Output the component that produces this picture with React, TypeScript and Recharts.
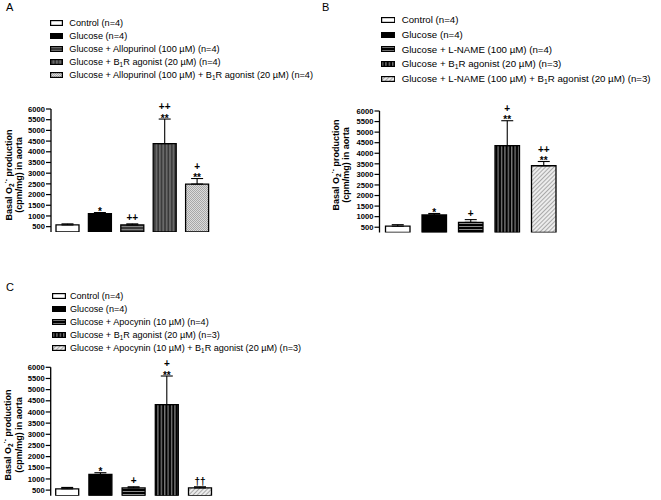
import React from 'react';
import { BarChart, Bar, XAxis, YAxis, Cell, ErrorBar, LabelList, Legend } from 'recharts';

// Basal superoxide production in aorta, three inhibitor panels (A, B, C)

const FONT = '"Liberation Sans", Arial, Helvetica, sans-serif';
const Y_MIN = 250;
const Y_MAX = 6000;
const Y_TICKS = [500, 1000, 1500, 2000, 2500, 3000, 3500, 4000, 4500, 5000, 5500, 6000];

// Panel A — allopurinol
const LABELS_A = [
  'Control (n=4)',
  'Glucose (n=4)',
  'Glucose + Allopurinol (100 µM) (n=4)',
  'Glucose + B₁R agonist (20 µM) (n=4)',
  'Glucose + Allopurinol (100 µM) + B₁R agonist  (20 µM) (n=4)',
];
const VALUES_A = [580, 1110, 580, 4380, 2490];
const ERR_A = [50, 50, 50, 1150, 260];
const SIG_A = [[], ['*'], ['++'], ['**', '++'], ['**', '+']];

// Panel B — L-NAME
const LABELS_B = [
  'Control (n=4)',
  'Glucose (n=4)',
  'Glucose + L-NAME (100 µM) (n=4)',
  'Glucose + B₁R agonist (20 µM) (n=3)',
  'Glucose + L-NAME (100 µM) + B₁R agonist (20 µM) (n=3)',
];
const VALUES_B = [550, 1080, 730, 4360, 3410];
const ERR_B = [70, 70, 130, 1180, 200];
const SIG_B = [[], ['*'], ['+'], ['**', '+'], ['**', '++']];

// Panel C — apocynin
const LABELS_C = [
  'Control (n=4)',
  'Glucose (n=4)',
  'Glucose + Apocynin (10 µM) (n=4)',
  'Glucose + B₁R agonist (20 µM) (n=3)',
  'Glucose + Apocynin (10 µM) + B₁R agonist (20 µM) (n=3)',
];
const VALUES_C = [560, 1200, 600, 4330, 600];
const ERR_C = [60, 80, 50, 1280, 50];
const SIG_C = [[], ['*'], ['+'], ['**', '+'], ['††']];

// bar fills (patterns are defined per panel)
const fillsFor = (id: string) => ['#ffffff', '#000000', `url(#${id}-h)`, `url(#${id}-v)`, `url(#${id}-x)`];

function Patterns({ id, light }: { id: string; light: boolean }) {
  // light = panel A style (gray stripes, dotted), else black stripes + diagonal hatch
  return (
    <defs>
      <pattern id={`${id}-h`} width={4} height={3} patternUnits="userSpaceOnUse">
        <rect width={4} height={3} fill={light ? '#3a3a3a' : '#000'} />
        <rect y={1} width={4} height={0.9} fill={light ? '#8a8a8a' : '#9a9a9a'} />
      </pattern>
      <pattern id={`${id}-v`} width={3.4} height={4} patternUnits="userSpaceOnUse">
        <rect width={3.4} height={4} fill={light ? '#6a6a6a' : '#000'} />
        <rect x={1.2} width={light ? 1.1 : 0.8} height={4} fill={light ? '#222' : '#c8c8c8'} />
      </pattern>
      {light ? (
        <pattern id={`${id}-x`} width={2} height={2} patternUnits="userSpaceOnUse">
          <rect width={2} height={2} fill="#dcdcdc" />
          <rect width={1} height={1} fill="#a8a8a8" />
          <rect x={1} y={1} width={1} height={1} fill="#a8a8a8" />
        </pattern>
      ) : (
        <pattern id={`${id}-x`} width={3} height={3} patternUnits="userSpaceOnUse" patternTransform="rotate(45)">
          <rect width={3} height={3} fill="#ececec" />
          <rect width={0.8} height={3} fill="#9a9a9a" />
        </pattern>
      )}
    </defs>
  );
}

// "B₁R" → B<sub>1</sub>R
function richLabel(s: string) {
  const parts = s.split('₁');
  return parts.map((p, i) => (
    <React.Fragment key={i}>
      {p}
      {i < parts.length - 1 && <span style={{ fontSize: '0.7em', verticalAlign: '-0.25em' }}>1</span>}
    </React.Fragment>
  ));
}

interface PanelProps {
  id: string;
  light: boolean;
  labels: string[];
  values: number[];
  err: number[];
  sig: string[][];
  left: number;
  top: number;
  width: number;
  height: number;
  margin: { top: number; right: number; bottom: number; left: number };
  yAxisWidth: number;
  barSize: number;
  legend: { top: number; left: number; rowH: number; fontSize: number; swW: number; gap: number };
  yLabel: { x1: number; x2: number; cy: number };
}

function Panel(p: PanelProps) {
  const data = p.labels.map((name, i) => ({ name, value: p.values[i], err: [0, p.err[i]] }));
  const fills = fillsFor(p.id);

  // eslint-disable-next-line @typescript-eslint/no-explicit-any
  const sigContent = (props: any) => {
    const vb = props.x != null ? props : props.viewBox || {};
    const { x, y, width, height } = vb;
    const index = props.index;
    const marks = p.sig[index];
    if (!marks || !marks.length || height == null) return null;
    const pxPerUnit = height / (p.values[index] - Y_MIN);
    const capY = y - p.err[index] * pxPerUnit;
    const cx = x + width / 2;
    return (
      <g>
        {marks.map((m, i) => {
          let by: number;
          if (i === 0) by = m.startsWith('*') ? capY + 2.5 : m.startsWith('†') ? capY - 2 : capY - 2.5;
          else by = capY - 9;
          return (
            <text
              key={i}
              x={cx}
              y={by}
              textAnchor="middle"
              fontSize={10}
              fontWeight="bold"
              fontFamily={FONT}
              fill="#000"
              style={{ fill: '#000' }}
            >
              {m}
            </text>
          );
        })}
      </g>
    );
  };

  const legendContent = () => (
    <div style={{ fontFamily: FONT, fontSize: p.legend.fontSize, color: '#000' }}>
      {p.labels.map((l, i) => (
        <div key={i} style={{ display: 'flex', alignItems: 'center', height: p.legend.rowH, whiteSpace: 'nowrap' }}>
          <svg width={p.legend.swW} height={6} style={{ marginRight: p.legend.gap, flex: 'none' }}>
            <rect x={0.6} y={0.6} width={p.legend.swW - 1.2} height={4.8} fill={fills[i]} stroke="#000" strokeWidth={1.2} />
          </svg>
          <span>{richLabel(l)}</span>
        </div>
      ))}
    </div>
  );

  return (
    <div style={{ position: 'absolute', left: p.left, top: p.top, width: p.width, height: p.height }}>
      <BarChart width={p.width} height={p.height} data={data} margin={p.margin}>
        <Patterns id={p.id} light={p.light} />
        <XAxis dataKey="name" tick={false} tickLine={false} height={0} axisLine={{ stroke: '#000', strokeWidth: 1.3 }} />
        <YAxis
          domain={[Y_MIN, Y_MAX]}
          ticks={Y_TICKS}
          allowDataOverflow
          width={p.yAxisWidth}
          tickSize={5}
          tickMargin={1}
          interval={0}
          axisLine={{ stroke: '#000', strokeWidth: 1.3 }}
          tickLine={{ stroke: '#000', strokeWidth: 1.2 }}
          tick={{ fill: '#000', fontSize: 7.6, fontWeight: 'bold', fontFamily: FONT }}
        />
        <Legend
          layout="vertical"
          align="center"
          verticalAlign="middle"
          content={legendContent}
          wrapperStyle={{ position: 'absolute', top: p.legend.top, left: p.legend.left, width: 'auto', height: 'auto' }}
        />
        <Bar dataKey="value" barSize={p.barSize} stroke="#000" strokeWidth={1.3} isAnimationActive={false}>
          {data.map((_, i) => (
            <Cell key={i} fill={fills[i]} />
          ))}
          <ErrorBar dataKey="err" direction="y" width={6} stroke="#000" strokeWidth={1.1} />
          <LabelList dataKey="value" content={sigContent} />
        </Bar>
        <text
          transform={`translate(${p.yLabel.x1}, ${p.yLabel.cy}) rotate(-90)`}
          textAnchor="middle"
          dominantBaseline="central"
          fontSize={9}
          fontWeight="bold"
          fontFamily={FONT}
          fill="#000"
        >
          Basal O
          <tspan fontSize={6.5} dy={2}>2</tspan>
          <tspan fontSize={6.5} dy={-6}>·-</tspan>
          <tspan dy={4}> production</tspan>
        </text>
        <text
          transform={`translate(${p.yLabel.x2}, ${p.yLabel.cy}) rotate(-90)`}
          textAnchor="middle"
          dominantBaseline="central"
          fontSize={9}
          fontWeight="bold"
          fontFamily={FONT}
          fill="#000"
        >
          (cpm/mg) in aorta
        </text>
      </BarChart>
    </div>
  );
}

const letterStyle: React.CSSProperties = { position: 'absolute', fontFamily: FONT, fontSize: 11, lineHeight: 1, color: '#000' };

export default function App() {
  return (
    <div style={{ position: 'absolute', left: 0, top: 0, width: 661, height: 500, background: '#fff', overflow: 'hidden' }}>
      <Panel
        id="pa"
        light
        labels={LABELS_A}
        values={VALUES_A}
        err={ERR_A}
        sig={SIG_A}
        left={0}
        top={0}
        width={330}
        height={250}
        margin={{ top: 109, right: 117, bottom: 18, left: 0 }}
        yAxisWidth={51}
        barSize={23}
        legend={{ top: 16.2, left: 50, rowH: 13.1, fontSize: 9.2, swW: 13, gap: 6.3 }}
        yLabel={{ x1: 9, x2: 19, cy: 175 }}
      />
      <Panel
        id="pb"
        light={false}
        labels={LABELS_B}
        values={VALUES_B}
        err={ERR_B}
        sig={SIG_B}
        left={330}
        top={0}
        width={331}
        height={250}
        margin={{ top: 111, right: 99, bottom: 17.5, left: 0 }}
        yAxisWidth={49.5}
        barSize={24.5}
        legend={{ top: 12.6, left: 50.7, rowH: 14.75, fontSize: 9.7, swW: 14.3, gap: 6.7 }}
        yLabel={{ x1: 6, x2: 16, cy: 165 }}
      />
      <Panel
        id="pc"
        light={false}
        labels={LABELS_C}
        values={VALUES_C}
        err={ERR_C}
        sig={SIG_C}
        left={0}
        top={280}
        width={330}
        height={220}
        margin={{ top: 87.3, right: 113.3, bottom: 4.3, left: 0 }}
        yAxisWidth={50.7}
        barSize={23}
        legend={{ top: 9.1, left: 51.7, rowH: 13.15, fontSize: 9.1, swW: 14, gap: 4.3 }}
        yLabel={{ x1: 8, x2: 19, cy: 155 }}
      />
      <div style={{ ...letterStyle, left: 6, top: 2 }}>A</div>
      <div style={{ ...letterStyle, left: 322, top: 2 }}>B</div>
      <div style={{ ...letterStyle, left: 6, top: 282 }}>C</div>
    </div>
  );
}
